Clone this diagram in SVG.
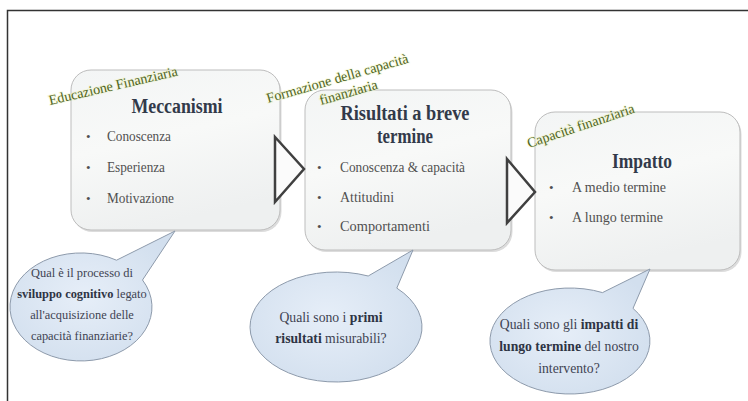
<svg xmlns="http://www.w3.org/2000/svg" width="748" height="401" viewBox="0 0 748 401">
  <style>
    .box { fill: url(#boxFill); stroke: #bdbdbd; stroke-width: 1; }
    .shadow { fill: #dcdcdc; }
    .title { font-family: "Liberation Serif", "Times New Roman", serif; font-weight: bold; font-size: 20px; fill: #323a4a; text-anchor: middle; }
    .item { font-family: "Liberation Serif", "Times New Roman", serif; font-size: 14.3px; fill: #505050; }
    .bullet { font-family: "Liberation Serif", "Times New Roman", serif; font-size: 13px; fill: #505050; }
    .arrow { fill: #fbfbfb; stroke: #404040; stroke-width: 2.5; stroke-linejoin: miter; }
    .bubble { fill: url(#bubbleFill); stroke: #8d9aab; stroke-width: 1; }
    .q { font-family: "Liberation Serif", "Times New Roman", serif; fill: #3e4352; text-anchor: middle; }
    .q tspan.b { font-weight: bold; fill: #2e3444; }
    .wa { font-family: "Liberation Serif", "Times New Roman", serif; font-size: 14px; fill: #4f6422; stroke: #eef5b4; stroke-width: 2; stroke-opacity: 0.35; paint-order: stroke; }
    .frame { stroke: #333333; stroke-width: 1.5; fill: none; }
  </style>
  <defs>
    <linearGradient id="boxFill" x1="0" y1="0" x2="0.3" y2="1">
      <stop offset="0" stop-color="#f3f5f5"/>
      <stop offset="0.5" stop-color="#f8f9f8"/>
      <stop offset="1" stop-color="#eef0f0"/>
    </linearGradient>
    <radialGradient id="bubbleFill" cx="0.45" cy="0.5" r="0.6">
      <stop offset="0" stop-color="#e6eef8"/>
      <stop offset="1" stop-color="#d2dfee"/>
    </radialGradient>
  </defs>

  <rect width="748" height="401" fill="#ffffff"/>

  <!-- page frame: top and left rules -->
  <g id="frame">
    <path class="frame" d="M7.5,401 V10.5 H748"/>
  </g>

  <!-- stage 1 -->
  <g id="node-meccanismi">
    <rect class="shadow" x="72.5" y="72" width="209" height="160" rx="20"/>
    <rect class="box" x="71" y="70" width="209" height="160" rx="20"/>
    <text class="title" x="177" y="113" textLength="91" lengthAdjust="spacingAndGlyphs">Meccanismi</text>
    <text class="bullet" x="86" y="141">•</text>
    <text class="item" x="107" y="141" textLength="64" lengthAdjust="spacingAndGlyphs">Conoscenza</text>
    <text class="bullet" x="86" y="172">•</text>
    <text class="item" x="107" y="172" textLength="58" lengthAdjust="spacingAndGlyphs">Esperienza</text>
    <text class="bullet" x="86" y="203">•</text>
    <text class="item" x="107" y="203" textLength="67" lengthAdjust="spacingAndGlyphs">Motivazione</text>
  </g>

  <!-- stage 2 -->
  <g id="node-risultati">
    <rect class="shadow" x="306.5" y="92" width="206" height="160" rx="20"/>
    <rect class="box" x="305" y="90" width="206" height="160" rx="20"/>
    <text class="title" x="405" y="120" textLength="129" lengthAdjust="spacingAndGlyphs">Risultati a breve</text>
    <text class="title" x="405" y="143" textLength="56" lengthAdjust="spacingAndGlyphs">termine</text>
    <text class="bullet" x="317" y="172">•</text>
    <text class="item" x="340" y="172" textLength="125" lengthAdjust="spacingAndGlyphs">Conoscenza &amp; capacità</text>
    <text class="bullet" x="317" y="202">•</text>
    <text class="item" x="340" y="202" textLength="54" lengthAdjust="spacingAndGlyphs">Attitudini</text>
    <text class="bullet" x="317" y="231">•</text>
    <text class="item" x="340" y="231" textLength="90" lengthAdjust="spacingAndGlyphs">Comportamenti</text>
  </g>

  <!-- stage 3 -->
  <g id="node-impatto">
    <rect class="shadow" x="536.5" y="114" width="205" height="158" rx="20"/>
    <rect class="box" x="535" y="112" width="205" height="158" rx="20"/>
    <text class="title" x="642" y="168" textLength="60" lengthAdjust="spacingAndGlyphs">Impatto</text>
    <text class="bullet" x="549" y="192">•</text>
    <text class="item" x="572" y="192" textLength="94" lengthAdjust="spacingAndGlyphs">A medio termine</text>
    <text class="bullet" x="549" y="222">•</text>
    <text class="item" x="572" y="222" textLength="91" lengthAdjust="spacingAndGlyphs">A lungo termine</text>
  </g>

  <!-- chevron connectors between stages -->
  <g id="connectors">
    <polygon class="arrow" points="275,137 304,169 275,202"/>
    <polygon class="arrow" points="507,159 535,192 507,223"/>
  </g>

  <!-- question callouts -->
  <g id="callout-1">
    <path class="bubble" d="M116.5,260.2 A71,54 0 1 0 142.5,280 L175,231 Z"/>
    <text class="q" font-size="12.4" x="82" y="277">Qual è il processo di</text>
    <text class="q" font-size="12.4" x="82" y="298"><tspan class="b">sviluppo cognitivo</tspan> legato</text>
    <text class="q" font-size="12.4" x="82" y="319">all'acquisizione delle</text>
    <text class="q" font-size="12.4" x="82" y="340">capacità finanziarie?</text>
  </g>

  <g id="callout-2">
    <path class="bubble" d="M368.2,276 A86,55 0 1 0 396.8,288.1 L413,250 Z"/>
    <text class="q" font-size="13.7" x="331" y="322">Quali sono i <tspan class="b">primi</tspan></text>
    <text class="q" font-size="13.7" x="331" y="343"><tspan class="b">risultati</tspan> misurabili?</text>
  </g>

  <g id="callout-3">
    <path class="bubble" d="M602.5,292.6 A80,53 0 1 0 633,308.4 L650,269 Z"/>
    <text class="q" font-size="13.7" x="569" y="329">Quali sono gli <tspan class="b">impatti di</tspan></text>
    <text class="q" font-size="13.7" x="569" y="351"><tspan class="b">lungo termine</tspan> del nostro</text>
    <text class="q" font-size="13.7" x="569" y="373">intervento?</text>
  </g>

  <!-- slanted stage labels -->
  <g id="labels">
    <text class="wa" transform="translate(50,105) rotate(-13)">Educazione Finanziaria</text>
    <text class="wa" transform="translate(268,103) rotate(-16)">Formazione della capacità</text>
    <text class="wa" transform="translate(321,105) rotate(-16)">finanziaria</text>
    <text class="wa" font-size="13.5" transform="translate(529,148) rotate(-18.5)">Capacità finanziaria</text>
  </g>
</svg>
